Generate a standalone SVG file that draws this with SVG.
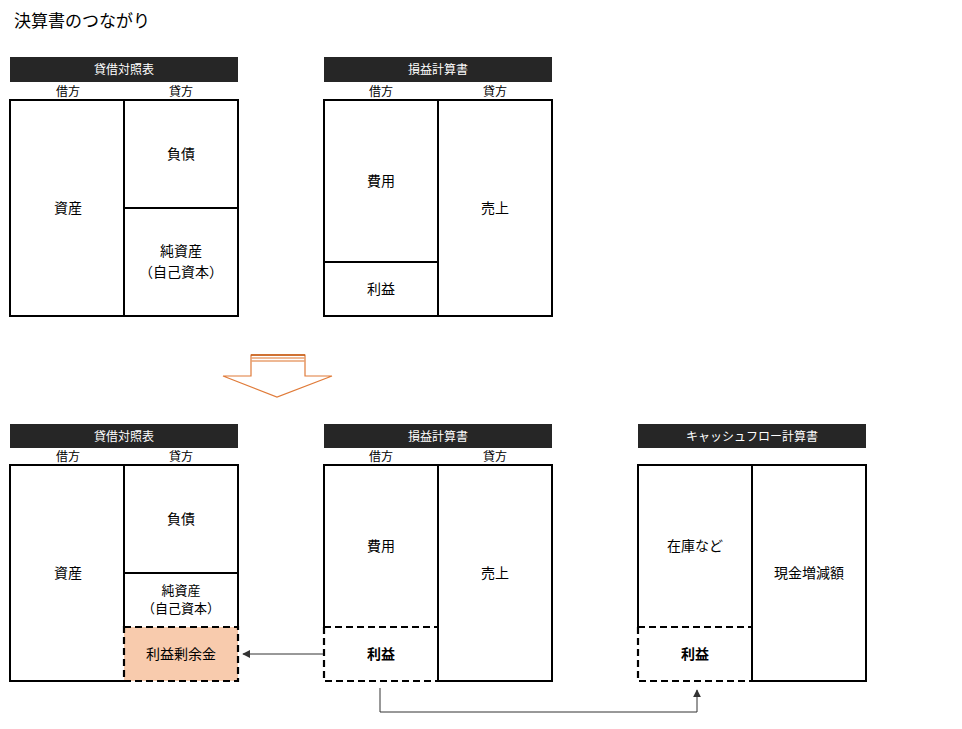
<svg xmlns="http://www.w3.org/2000/svg" width="962" height="729" viewBox="0 0 962 729">
<style>
text{font-family:"Noto Sans CJK JP","Noto Sans CJK SC",sans-serif;fill:#000}
.title{font-size:17px}
.hdr{fill:#262626}
.hdrt{font-size:12px;fill:#fff;text-anchor:middle}
.side{font-size:12px;text-anchor:middle}
.lbl{font-size:14px;text-anchor:middle}
.bold{font-weight:bold}
.box{fill:#fff;stroke:#000;stroke-width:2}
.ln{stroke:#000;stroke-width:2;fill:none}
.dash{fill:none;stroke:#000;stroke-width:2.2;stroke-dasharray:7 4}
.conn{fill:none;stroke:#333;stroke-width:1}
</style>
<defs>
<marker id="ah" viewBox="0 0 10 10" refX="9" refY="5" markerWidth="8" markerHeight="8" markerUnits="userSpaceOnUse" orient="auto">
<path d="M0,0 L10,5 L0,10 z" fill="#333"/>
</marker>
</defs>
<rect width="962" height="729" fill="#fff"/>
<text class="title" x="14" y="27">決算書のつながり</text>

<g id="bs1">
<rect class="hdr" x="10" y="57" width="228" height="25"/>
<text class="hdrt" x="124" y="74">貸借対照表</text>
<text class="side" x="68" y="96">借方</text>
<text class="side" x="181" y="96">貸方</text>
<rect class="box" x="10" y="100" width="228" height="216"/>
<line class="ln" x1="124" y1="100" x2="124" y2="316"/>
<line class="ln" x1="124" y1="208" x2="238" y2="208"/>
<text class="lbl" x="68" y="213">資産</text>
<text class="lbl" x="181" y="159">負債</text>
<text class="lbl" x="181" y="256">純資産</text>
<text class="lbl" x="181" y="277">（自己資本）</text>
</g>

<g id="pl1">
<rect class="hdr" x="324" y="57" width="228" height="25"/>
<text class="hdrt" x="438" y="74">損益計算書</text>
<text class="side" x="381" y="96">借方</text>
<text class="side" x="495" y="96">貸方</text>
<rect class="box" x="324" y="100" width="228" height="216"/>
<line class="ln" x1="438" y1="100" x2="438" y2="316"/>
<line class="ln" x1="324" y1="262" x2="438" y2="262"/>
<text class="lbl" x="381" y="186">費用</text>
<text class="lbl" x="381" y="294">利益</text>
<text class="lbl" x="495" y="213">売上</text>
</g>

<g id="bigarrow">
<path d="M251,355 H305 V376 H332 L277,397 L223,376 H251 Z" fill="#fff" stroke="#E07B39" stroke-width="1.2"/>
<line x1="251" y1="355" x2="305" y2="355" stroke="#C55A11" stroke-width="1.5"/>
<line x1="251" y1="358" x2="305" y2="358" stroke="#E8A070" stroke-width="1.5"/>
<line x1="251" y1="361" x2="305" y2="361" stroke="#E8A070" stroke-width="1.5"/>
</g>

<g id="bs2">
<rect class="hdr" x="10" y="424" width="228" height="24"/>
<text class="hdrt" x="124" y="441">貸借対照表</text>
<text class="side" x="68" y="461">借方</text>
<text class="side" x="181" y="461">貸方</text>
<path class="ln" d="M238,627 V465 H10 V681 H124"/>
<rect x="124" y="627" width="114" height="54" fill="#F8CBAD"/>
<line class="ln" x1="124" y1="465" x2="124" y2="627"/>
<line class="ln" x1="124" y1="573" x2="238" y2="573"/>
<path class="dash" d="M124,627 H238 V681 H124 Z"/>
<text class="lbl" x="68" y="578">資産</text>
<text class="lbl" x="181" y="595" style="font-size:13px">純資産</text>
<text class="lbl" x="181" y="524">負債</text>
<text class="lbl" x="181" y="613" style="font-size:13px">（自己資本）</text>
<text class="lbl" x="181" y="659">利益剰余金</text>
</g>

<g id="pl2">
<rect class="hdr" x="324" y="424" width="228" height="24"/>
<text class="hdrt" x="438" y="441">損益計算書</text>
<text class="side" x="381" y="461">借方</text>
<text class="side" x="495" y="461">貸方</text>
<path class="ln" d="M324,627 V465 H552 V681 H438"/>
<line class="ln" x1="438" y1="465" x2="438" y2="681"/>
<path class="dash" d="M324,627 H438 M324,627 V681 H438"/>
<text class="lbl" x="381" y="551">費用</text>
<text class="lbl bold" x="381" y="659">利益</text>
<text class="lbl" x="495" y="578">売上</text>
</g>

<g id="cf">
<rect class="hdr" x="638" y="424" width="228" height="24"/>
<text class="hdrt" x="752" y="441">キャッシュフロー計算書</text>
<path class="ln" d="M638,627 V465 H866 V681 H752"/>
<line class="ln" x1="752" y1="465" x2="752" y2="681"/>
<path class="dash" d="M638,627 H752 M638,627 V681 H752"/>
<text class="lbl" x="695" y="551">在庫など</text>
<text class="lbl" x="809" y="578">現金増減額</text>
<text class="lbl bold" x="695" y="659">利益</text>
</g>

<g id="connectors">
<line class="conn" x1="323" y1="654" x2="243" y2="654" marker-end="url(#ah)"/>
<path class="conn" d="M380,688 V712 H697 V690" marker-end="url(#ah)"/>
</g>
</svg>
